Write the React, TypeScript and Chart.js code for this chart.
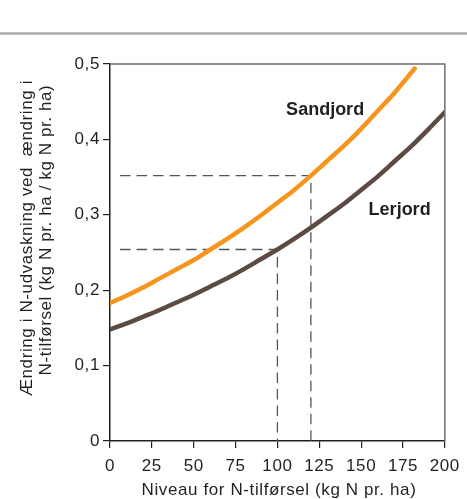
import React, { useEffect, useRef } from "react";
import { Chart, registerables } from "chart.js";

Chart.register(...registerables);

// ---- data ----
const sandX = [0, 10, 20, 30, 40, 50, 60, 70, 80, 90, 100, 110, 120, 130, 140, 150, 160, 170, 182];
const sandY = [0.183, 0.193, 0.204, 0.216, 0.228, 0.240, 0.254, 0.268, 0.283, 0.299, 0.316, 0.333, 0.352, 0.372, 0.392, 0.414, 0.438, 0.462, 0.494];
const lerX = [0, 10, 20, 30, 40, 50, 60, 70, 80, 90, 100, 110, 120, 130, 140, 150, 160, 170, 180, 190, 200];
const lerY = [0.148, 0.156, 0.165, 0.174, 0.184, 0.194, 0.205, 0.216, 0.228, 0.241, 0.254, 0.268, 0.283, 0.299, 0.315, 0.333, 0.351, 0.371, 0.391, 0.413, 0.436];
const guideUpperX = [6, 120, 120];
const guideUpperY = [0.352, 0.352, 0];
const guideLowerX = [6, 100, 100];
const guideLowerY = [0.254, 0.254, 0];
const labelTexts = ["Sandjord", "Lerjord"];
const labelX = [128.5, 173];
const labelY = [0.432, 0.30];
const xTitle = "Niveau for N-tilførsel (kg N pr. ha)";
const yTitleLines = ["Ændring i N-udvaskning ved  ændring i", "N-tilførsel (kg N pr. ha / kg N pr. ha)"];

const FONT = "'Liberation Sans', Arial, Helvetica, sans-serif";
const TEXT = "#231f20";
const SPACING = "0.6px";

const pts = (xs: number[], ys: number[]) => xs.map((x, i) => ({ x, y: ys[i] }));

const overlay = {
  id: "overlay",
  beforeDraw(chart: any) {
    (chart.ctx as any).letterSpacing = SPACING;
  },
  afterDraw(chart: any) {
    const { ctx, chartArea: a, scales } = chart;
    ctx.save();
    // top separator line
    ctx.strokeStyle = "#aaaaaa";
    ctx.lineWidth = 2.5;
    ctx.beginPath();
    ctx.moveTo(0, 33.5);
    ctx.lineTo(chart.width, 33.5);
    ctx.stroke();
    // frame top/right
    ctx.strokeStyle = "#6e6e6e";
    ctx.lineWidth = 1.5;
    ctx.beginPath();
    ctx.moveTo(a.left, a.top);
    ctx.lineTo(a.right, a.top);
    ctx.lineTo(a.right, a.bottom);
    ctx.stroke();

    ctx.fillStyle = TEXT;
    // x title
    (ctx as any).letterSpacing = SPACING;
    ctx.font = `17px ${FONT}`;
    ctx.textAlign = "center";
    ctx.textBaseline = "alphabetic";
    ctx.fillText(xTitle, 279, 495);
    // y title
    const yCenters = [238, 230];
    const yBase = [31.5, 51];
    yTitleLines.forEach((t, i) => {
      ctx.save();
      ctx.translate(yBase[i], yCenters[i]);
      ctx.rotate(-Math.PI / 2);
      ctx.fillText(t, 0, 0);
      ctx.restore();
    });
    // curve labels
    (ctx as any).letterSpacing = "0px";
    ctx.font = `bold 18px ${FONT}`;
    labelTexts.forEach((t, i) => {
      ctx.fillText(t, scales.x.getPixelForValue(labelX[i]), scales.y.getPixelForValue(labelY[i]));
    });
    ctx.restore();
  },
};

export default function App() {
  const ref = useRef<HTMLCanvasElement>(null);
  useEffect(() => {
    document.body.style.margin = "0";
    const canvas = ref.current!;
    const chart = new Chart(canvas, {
      type: "line",
      data: {
        datasets: [
          {
            label: "Sandjord",
            data: pts(sandX, sandY),
            borderColor: "#f7941d",
            borderWidth: 4.5,
            borderCapStyle: "round",
            pointRadius: 0,
            cubicInterpolationMode: "monotone",
          },
          {
            label: "Lerjord",
            data: pts(lerX, lerY),
            borderColor: "#5c4b42",
            borderWidth: 4.5,
            borderCapStyle: "round",
            pointRadius: 0,
            cubicInterpolationMode: "monotone",
          },
          {
            label: "guide upper",
            data: pts(guideUpperX, guideUpperY),
            borderColor: "#555555",
            borderWidth: 1.3,
            borderDash: [10.5, 6],
            pointRadius: 0,
            tension: 0,
          },
          {
            label: "guide lower",
            data: pts(guideLowerX, guideLowerY),
            borderColor: "#555555",
            borderWidth: 1.3,
            borderDash: [10.5, 6],
            pointRadius: 0,
            tension: 0,
          },
        ],
      },
      options: {
        animation: false,
        responsive: false,
        devicePixelRatio: 1,
        layout: { padding: { top: 64, right: 19.5, bottom: 0, left: 0 } },
        plugins: { legend: { display: false }, tooltip: { enabled: false } },
        scales: {
          x: {
            type: "linear",
            min: 0,
            max: 200,
            ticks: {
              stepSize: 25,
              font: { family: FONT, size: 17 },
              color: TEXT,
              padding: 8,
              maxRotation: 0,
              autoSkip: false,
              callback: (v: any) => String(v),
            },
            grid: { drawOnChartArea: false, tickLength: 7, color: "#231f20", lineWidth: 1.2 },
            border: { display: true, color: "#231f20", width: 1.5 },
            afterFit: (s: any) => {
              s.height = 58;
            },
          },
          y: {
            type: "linear",
            min: 0,
            max: 0.5,
            ticks: {
              stepSize: 0.1,
              font: { family: FONT, size: 17 },
              color: TEXT,
              padding: 3,
              callback: (v: any) => (v === 0 ? "0" : Number(v).toFixed(1).replace(".", ",")),
            },
            grid: { drawOnChartArea: false, tickLength: 7, color: "#231f20", lineWidth: 1.2 },
            border: { display: true, color: "#231f20", width: 1.5 },
            afterFit: (s: any) => {
              s.width = 110;
            },
          },
        },
      },
      plugins: [overlay],
    } as any);
    return () => chart.destroy();
  }, []);
  return (
    <div style={{ width: 467, height: 499 }}>
      <canvas ref={ref} width={467} height={499} style={{ display: "block" }} />
    </div>
  );
}
